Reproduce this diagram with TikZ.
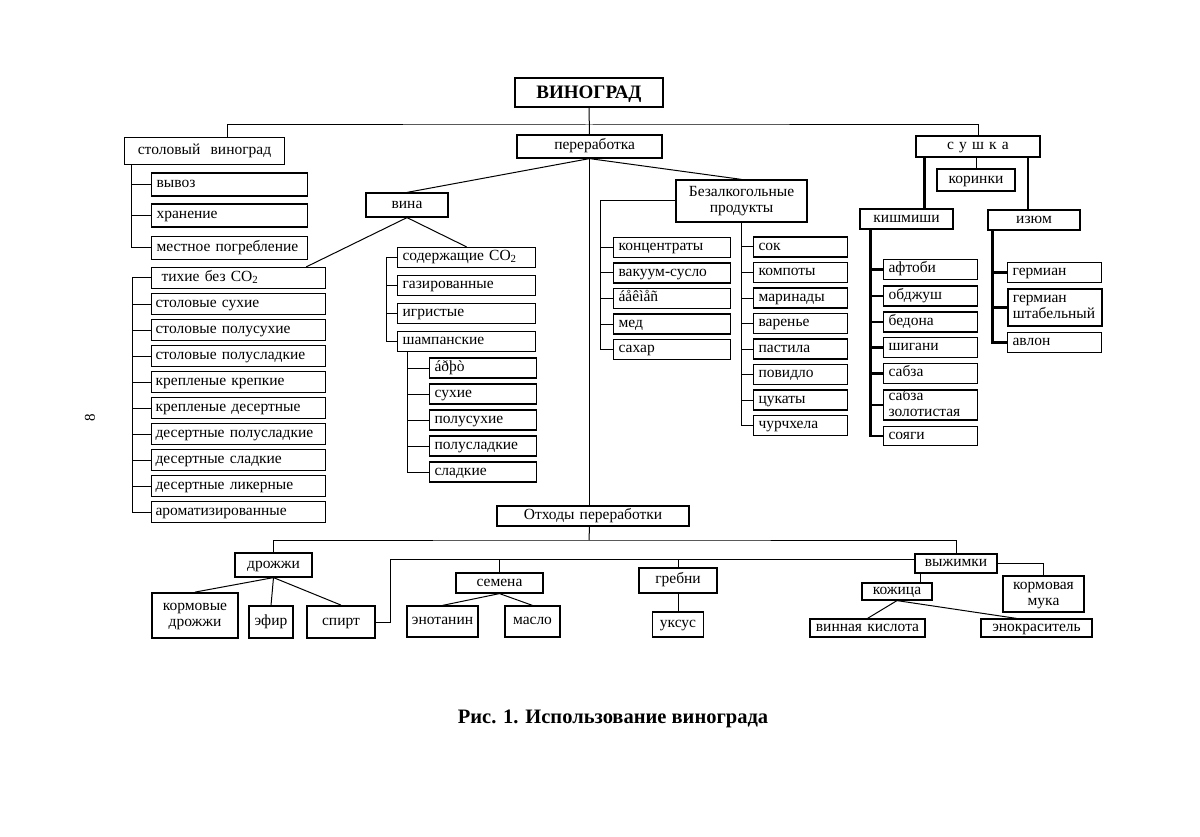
\documentclass[tikz,border=0pt]{standalone}
\usepackage{fontspec}
\setmainfont{Liberation Serif}
\usepackage{tikz}

\newcommand{\boxfont}{\fontsize{15.5}{16}\selectfont\normalbaselineskip=16pt}

\begin{document}
\begin{tikzpicture}[x=1pt,y=-1pt,
  cell/.style={draw, line width=1.2pt, inner xsep=0pt, inner ysep=0pt, font=\boxfont, text height=10pt, text depth=3.5pt},
  mid/.style={cell, text width=#1, align=center},
  item/.style={cell, anchor=west, text width=#1, inner xsep=5pt, align=left},
  twoline/.style={text depth=19.5pt},
  heavy/.style={line width=1.8pt},
  link/.style={line width=1pt},
  spine/.style={line width=2.2pt}]
\useasboundingbox (0,0) rectangle (1200,837);

\node[mid=148pt, heavy, minimum height=29pt, font=\fontsize{19}{20}\selectfont\bfseries, text height=13pt, text depth=0pt] (vinograd) at (589,92.5) {ВИНОГРАД};
\node[mid=160pt, minimum height=27pt] (stolvin) at (204.5,151) {столовый\ \ виноград};
\node[mid=145pt, minimum height=23pt] (pererab) at (589.5,146.5) {\ \ переработка};
\node[mid=124pt, heavy, minimum height=21pt] (sushka) at (978,146.5) {с у ш к а};
\coordinate (hub) at (589,125);
\draw[link] (vinograd.south) -- (pererab.north);
\draw[link] ([xshift=22.5pt]stolvin.north) |- (hub) -| (sushka.north);

\node[mid=78pt, heavy, minimum height=22pt] (korinki) at (976,180) {коринки};
\node[mid=93pt, minimum height=20pt] (kishmish) at (906.5,219) {кишмиши};
\node[mid=92pt, minimum height=20pt] (izyum) at (1034,220) {изюм};
\draw[link] (sushka.south -| korinki.north) -- (korinki.north);
\coordinate (kstem) at ([xshift=18pt]kishmish.north);
\coordinate (istem) at ([xshift=-6pt]izyum.north);
\draw[spine] (kstem) -- (kstem |- sushka.south);
\draw[spine] (istem) -- (istem |- sushka.south);

\coordinate (kspine) at ([xshift=11pt]kishmish.south west);
\foreach \t/\y [count=\i] in {афтоби/269.5, обджуш/296, бедона/322, шигани/347.5, сабза/373.5} {
  \node[item=84pt, minimum height=20pt] (k\i) at (883,\y) {\t};
  \draw[spine] (kspine) |- (k\i.west);
}
\node[item=84pt, twoline, minimum height=30pt] (k6) at (883,405) {сабза\\золотистая};
\node[item=84pt, minimum height=19pt] (k7) at (883,436) {сояги};
\foreach \i in {6,7}
  \draw[spine] (kspine) |- (k\i.west);

\coordinate (ispine) at ([xshift=5pt]izyum.south west);
\node[item=84pt, minimum height=20pt] (g1) at (1007,272.5) {гермиан};
\node[item=84pt, twoline, heavy, minimum height=37pt] (g2) at (1007,307.5) {гермиан\\штабельный};
\node[item=84pt, minimum height=20pt] (g3) at (1007,342.5) {авлон};
\foreach \i in {1,2,3}
  \draw[spine] (ispine) |- (g\i.west);

\coordinate (sspine) at ([xshift=8pt]stolvin.south west);
\foreach \t/\y [count=\i] in {вывоз/184.5, хранение/215.5, местное погребление/248} {
  \node[item=146pt, minimum height=23pt] (s\i) at (151,\y) {\t};
  \draw[link] (sspine) |- (s\i.west);
}

\node[mid=82pt, minimum height=24pt] (vina) at (407,205) {вина};
\draw[link] (pererab.south) -- (vina.north);

\coordinate (wspine) at (132,278);
\foreach \t [count=\i] in {\hspace*{6pt}тихие без CO\textsubscript{2}, столовые сухие, столовые полусухие, столовые полусладкие, крепленые крепкие, крепленые десертные, десертные полусладкие, десертные сладкие, десертные ликерные, ароматизированные} {
  \node[item=166pt, minimum height=21pt, inner xsep=4pt] (w\i) at (151,252+26*\i) {\t};
  \draw[link] (wspine) |- (w\i.west);
}
\draw[link] (vina.south) -- ([xshift=-20pt]w1.north east);

\coordinate (mspine) at (386,257.5);
\foreach \t [count=\i] in {содержащие CO\textsubscript{2}, газированные, игристые, шампанские} {
  \node[item=128pt, minimum height=20pt] (m\i) at (397,229.5+28*\i) {\t};
  \draw[link] (mspine) |- (m\i.west);
}
\draw[link] (vina.south) -- (m1.north);

\coordinate (cspine) at ([xshift=10pt]m4.south west);
\foreach \t [count=\i] in {áðþò, сухие, полусухие, полусладкие, сладкие} {
  \node[item=97pt, minimum height=20pt] (c\i) at (429,342+26*\i) {\t};
  \draw[link] (cspine) |- (c\i.west);
}

\node[mid=131pt, twoline, minimum height=42pt] (bez) at (741.5,201) {Безалкогольные\\продукты};
\draw[link] (pererab.south) -- (bez.north);
\coordinate (lspine) at (600,201);
\draw[link] (bez.west) -- (lspine);
\foreach \t [count=\i] in {концентраты, вакуум-сусло, áåêìåñ, мед, сахар} {
  \node[item=107pt, minimum height=20pt] (l\i) at (613,222+25.5*\i) {\t};
  \draw[link] (lspine) |- (l\i.west);
}
\foreach \t [count=\i] in {сок, компоты, маринады, варенье, пастила, повидло, цукаты, чурчхела} {
  \node[item=84pt, minimum height=20pt] (r\i) at (753,221.5+25.5*\i) {\t};
  \draw[link] (bez.south) |- (r\i.west);
}

\node[mid=192pt, minimum height=20pt] (otkhody) at (593,516) {Отходы переработки};
\draw[link] (pererab.south) -- (pererab.south |- otkhody.north);
\coordinate (bus) at (589,540);
\draw[link] (pererab.south |- otkhody.south) -- (bus);
\node[mid=77pt, minimum height=24pt] (drozhzhi) at (273.5,565) {дрожжи};
\node[mid=82pt, minimum height=19pt] (vyzhimki) at (956,563.5) {выжимки};
\draw[link] (drozhzhi.north) |- (bus) -| (vyzhimki.north);

\node[mid=86pt, twoline, heavy, minimum height=45pt] (kormdr) at (195,615.5) {кормовые\\дрожжи};
\node[mid=44pt, minimum height=32pt] (efir) at (271,622) {эфир};
\node[mid=68pt, heavy, minimum height=32pt] (spirt) at (341,622) {спирт};
\foreach \n in {kormdr, efir, spirt}
  \draw[link] (drozhzhi.south) -- (\n.north);

\coordinate (bus2) at (390,559);
\draw[link] (spirt.east) -| (bus2) -- (bus2 -| vyzhimki.west);
\node[mid=87pt, minimum height=20pt] (semena) at (499.5,583) {семена};
\node[mid=78pt, heavy, minimum height=25pt] (grebni) at (678,580.5) {гребни};
\draw[link] (semena.north) -- (semena.north |- bus2);
\draw[link] (grebni.north) -- (grebni.north |- bus2);
\node[mid=51pt, minimum height=25pt] (uksus) at (678,624.5) {уксус};
\draw[link] (grebni.south) -- (uksus.north);
\node[mid=71pt, minimum height=31pt] (enotanin) at (442.5,621.5) {энотанин};
\node[mid=55pt, minimum height=31pt] (maslo) at (532.5,621.5) {масло};
\draw[link] (semena.south) -- (enotanin.north);
\draw[link] (semena.south) -- (maslo.north);

\node[mid=70pt, minimum height=17pt] (kozhitsa) at (897,591.5) {кожица};
\coordinate (vstem) at ([xshift=23pt]kozhitsa.north);
\draw[link] (vstem) -- (vstem |- vyzhimki.south);
\node[mid=81pt, twoline, heavy, minimum height=36pt] (kormmuka) at (1043.5,594) {кормовая\\мука};
\draw[link] (vyzhimki.east) -| (kormmuka.north);
\node[mid=115pt, minimum height=18pt] (vinkisl) at (867.5,628) {винная кислота};
\node[mid=111pt, minimum height=18pt] (enokras) at (1036.5,628) {энокраситель};
\draw[link] (kozhitsa.south) -- (vinkisl.north);
\draw[link] (kozhitsa.south) -- ([xshift=-20pt]enokras.north);

\node[font=\fontsize{20.5}{22}\selectfont\bfseries] (caption) at (613,719) {Рис. 1. Использование винограда};
\node[rotate=90, font=\fontsize{15}{16}\selectfont] (pagenum) at (90,418) {8};
\end{tikzpicture}
\end{document}
